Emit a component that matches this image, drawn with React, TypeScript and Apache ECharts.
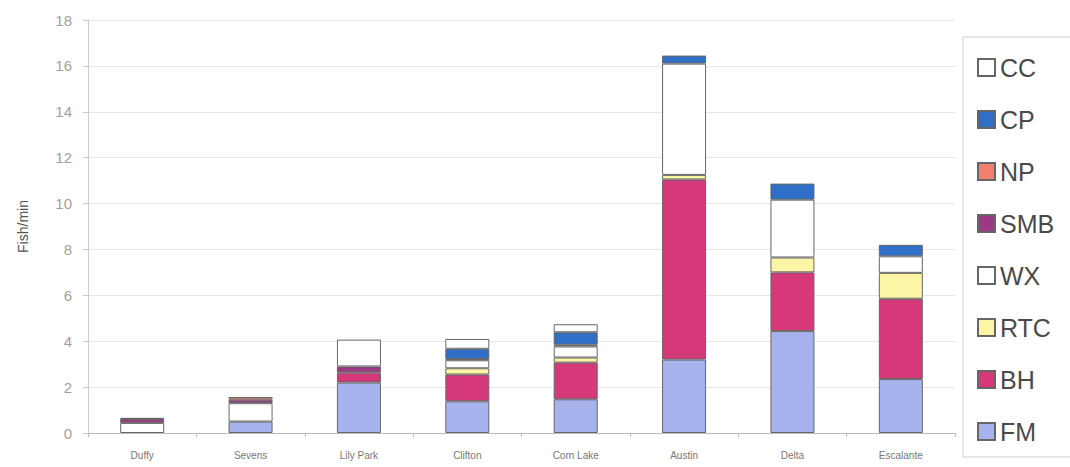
import React, { useEffect, useRef } from "react";
import * as echarts from "echarts";

const categories = ["Duffy", "Sevens", "Lily Park", "Clifton", "Corn Lake", "Austin", "Delta", "Escalante"];
const FM = [0, 0.5, 2.2, 1.38, 1.47, 3.2, 4.44, 2.35];
const BH = [0, 0, 0.43, 1.17, 1.6, 7.85, 2.56, 3.5];
const RTC = [0, 0, 0, 0.27, 0.22, 0.2, 0.65, 1.13];
const WX = [0.44, 0.8, 0, 0.35, 0.48, 4.85, 2.52, 0.72];
const SMB = [0.17, 0.15, 0.27, 0.05, 0.08, 0, 0, 0];
const NP = [0.05, 0.12, 0, 0, 0, 0, 0, 0];
const CP = [0, 0, 0, 0.45, 0.54, 0.35, 0.7, 0.5];
const CC = [0, 0, 1.17, 0.43, 0.35, 0, 0, 0];
const yTicks = { min: 0, max: 18, interval: 2 };
const legendOrder = ["CC", "CP", "NP", "SMB", "WX", "RTC", "BH", "FM"];

const seriesDefs: [string, number[], string][] = [
  ["FM", FM, "#a7b3ec"],
  ["BH", BH, "#d6397a"],
  ["RTC", RTC, "#fbf5a5"],
  ["WX", WX, "#ffffff"],
  ["SMB", SMB, "#9a3a82"],
  ["NP", NP, "#f3806f"],
  ["CP", CP, "#2f6fc8"],
  ["CC", CC, "#ffffff"],
];

export default function App() {
  const ref = useRef<HTMLDivElement>(null);
  useEffect(() => {
    document.body.style.margin = "0";
    const chart = echarts.init(ref.current!, null, { renderer: "svg" });
    chart.setOption({
      animation: false,
      backgroundColor: "#ffffff",
      textStyle: { fontFamily: "Liberation Sans" },
      grid: { left: 88, right: 115, top: 20, bottom: 34 },
      legend: {
        orient: "vertical",
        left: 977,
        top: 55,
        padding: 0,
        itemGap: 27,
        itemWidth: 17,
        itemHeight: 17,
        icon: "rect",
        data: legendOrder,
        textStyle: { fontSize: 25, lineHeight: 25, color: "#4a4a4a", padding: [0, 0, 0, 0], fontFamily: "Liberation Sans" },
      },
      graphic: [
        {
          type: "rect",
          shape: { x: 963, y: 37, width: 130, height: 420 },
          style: { fill: "none", stroke: "#cfcfcf", lineWidth: 1 },
          z: -1,
        },
      ],
      xAxis: {
        type: "category",
        data: categories,
        axisLine: { lineStyle: { color: "#bbbbbb" } },
        axisTick: { show: true, length: 4, lineStyle: { color: "#bbbbbb" } },
        axisLabel: { fontSize: 10, color: "#777", margin: 17 },
      },
      yAxis: {
        type: "value",
        min: yTicks.min,
        max: yTicks.max,
        interval: yTicks.interval,
        name: "Fish/min",
        nameLocation: "middle",
        nameGap: 58,
        nameRotate: 90,
        nameTextStyle: { fontSize: 14, color: "#555" },
        axisLine: { show: true, lineStyle: { color: "#cccccc" } },
        axisTick: { show: true, length: 5, lineStyle: { color: "#cccccc" } },
        axisLabel: { fontSize: 15, color: "#a0a0a0", margin: 16 },
        splitLine: { lineStyle: { color: "#e6e6e6" } },
      },
      series: seriesDefs.map(([name, vals, color]) => ({
        name,
        type: "bar",
        stack: "total",
        barWidth: 44,
        data: vals.map((v) => (v === 0 ? null : v)),
        itemStyle: { color, borderColor: "#666", borderWidth: 1 },
      })),
    });
    return () => chart.dispose();
  }, []);
  return <div ref={ref} style={{ width: 1070, height: 467 }} />;
}
